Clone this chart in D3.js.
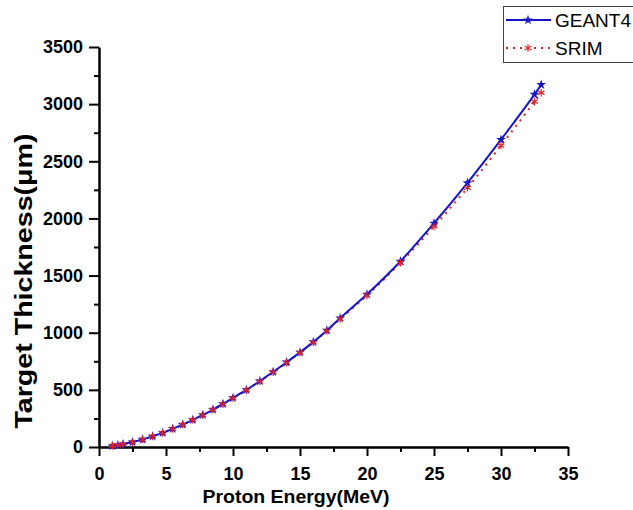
<!DOCTYPE html>
<meta charset="utf-8">
<head lang="en">
    <title>Target Thickness vs Proton Energy</title>
    <script src="https://cdn.jsdelivr.net/npm/d3@7/dist/d3.min.js"></script>
    <style type="text/css">
        body { margin: 0; background: #fff; }
        .axis path, .axis line { stroke: #000; }
        .axis text { font-family: Arial, "Liberation Sans", sans-serif; font-weight: bold; font-size: 18px; fill: #000; }
        .title { font-family: Arial, "Liberation Sans", sans-serif; font-weight: bold; fill: #000; }
        .geant { fill: none; stroke: #1414c8; stroke-width: 2; }
        .srim { fill: none; stroke: #e0242a; stroke-width: 2; stroke-dasharray: 2, 5; }
    </style>
</head>
<body>
<script type="text/javascript">

    // data
    var energy = [1, 1.4, 1.8, 2.5, 3.25, 4, 4.75, 5.5, 6.25, 7, 7.75, 8.5, 9.25, 10,
        11, 12, 13, 14, 15, 16, 17, 18, 20, 22.5, 25, 27.5, 30, 32.5, 33];
    var geant4 = [10, 17, 25, 43, 66, 94, 124, 160, 197, 238, 281, 328, 377, 430,
        500, 577, 658, 742, 828, 920, 1020, 1128, 1336, 1625, 1958, 2312, 2690, 3085, 3170];
    var srim = [10, 16, 24, 42, 65, 93, 123, 158, 195, 236, 279, 326, 374, 427,
        497, 574, 655, 738, 825, 916, 1015, 1120, 1325, 1612, 1930, 2268, 2638, 3022, 3100];
    var xTicks = [0, 5, 10, 15, 20, 25, 30, 35];
    var yTicks = [0, 500, 1000, 1500, 2000, 2500, 3000, 3500];
    var series = ["GEANT4", "SRIM"];

    var width = 633;
    var height = 510;

    var svg = d3.select("body")
        .append("svg")
        .attr("width", width)
        .attr("height", height);

    var x = d3.scaleLinear().domain([0, 35]).range([99, 568]);
    var y = d3.scaleLinear().domain([0, 3500]).range([447, 47]);

    // minor ticks
    var xMinor = xTicks.slice(0, -1).map(function (d) { return d + 2.5; });
    var yMinor = yTicks.slice(0, -1).map(function (d) { return d + 250; });

    svg.append("g")
        .attr("transform", "translate(0,447)")
        .call(d3.axisBottom(x).tickValues(xMinor).tickSize(5).tickFormat(""))
        .call(function (g) { g.select(".domain").remove(); g.selectAll("line").attr("stroke", "#000").attr("stroke-width", 2); });
    svg.append("g")
        .attr("transform", "translate(99,0)")
        .call(d3.axisLeft(y).tickValues(yMinor).tickSize(5).tickFormat(""))
        .call(function (g) { g.select(".domain").remove(); g.selectAll("line").attr("stroke", "#000").attr("stroke-width", 2); });

    svg.append("g")
        .attr("class", "axis")
        .attr("transform", "translate(0,447)")
        .call(d3.axisBottom(x).tickValues(xTicks).tickFormat(d3.format("d"))
            .tickSize(9).tickSizeOuter(0).tickPadding(11));
    svg.append("g")
        .attr("class", "axis")
        .attr("transform", "translate(99,0)")
        .call(d3.axisLeft(y).tickValues(yTicks).tickFormat(d3.format("d"))
            .tickSize(10).tickSizeOuter(0).tickPadding(6));
    svg.selectAll(".axis .domain").attr("stroke-width", 2.5);
    svg.selectAll(".axis .tick line").attr("stroke-width", 2);
    svg.selectAll(".axis text").attr("font-family", null).attr("font-size", null);

    // axis titles
    svg.append("text")
        .attr("class", "title")
        .attr("x", 296)
        .attr("y", 503)
        .attr("font-size", "19px")
        .attr("text-anchor", "middle")
        .attr("textLength", 187)
        .attr("lengthAdjust", "spacingAndGlyphs")
        .text("Proton Energy(MeV)");
    svg.append("text")
        .attr("class", "title")
        .attr("transform", "translate(32,281) rotate(-90)")
        .attr("font-size", "24px")
        .attr("text-anchor", "middle")
        .attr("textLength", 295)
        .attr("lengthAdjust", "spacingAndGlyphs")
        .text("Target Thickness(\u03bcm)");

    var line = d3.line()
        .x(function (d) { return x(d[0]); })
        .y(function (d) { return y(d[1]); })
        .curve(d3.curveMonotoneX);

    var gData = energy.map(function (e, i) { return [e, geant4[i]]; });
    var sData = energy.map(function (e, i) { return [e, srim[i]]; });

    var star = d3.symbol().type(d3.symbolStar).size(30);
    var aster = d3.symbol().type(d3.symbolAsterisk).size(40);

    svg.append("path").datum(sData).attr("class", "srim").attr("d", line);
    svg.append("path").datum(gData).attr("class", "geant").attr("d", line);
    svg.selectAll(".gmark")
        .data(gData)
        .enter()
        .append("path")
        .attr("class", "gmark")
        .attr("transform", function (d) { return "translate(" + x(d[0]) + "," + y(d[1]) + ")"; })
        .attr("d", star)
        .attr("fill", "#1414c8");
    svg.selectAll(".smark")
        .data(sData)
        .enter()
        .append("path")
        .attr("class", "smark")
        .attr("transform", function (d) { return "translate(" + x(d[0]) + "," + y(d[1]) + ")"; })
        .attr("d", aster)
        .attr("fill", "none")
        .attr("stroke", "#e0242a")
        .attr("stroke-width", 1.2);

    // legend
    var legend = svg.append("g");
    legend.append("rect")
        .attr("x", 503.5)
        .attr("y", 6.5)
        .attr("width", 135)
        .attr("height", 56)
        .attr("fill", "#fff")
        .attr("stroke", "#444")
        .attr("stroke-width", 1);
    legend.append("line")
        .attr("x1", 506).attr("x2", 551).attr("y1", 20).attr("y2", 20)
        .attr("class", "geant");
    legend.append("path")
        .attr("transform", "translate(528,20)")
        .attr("d", star)
        .attr("fill", "#1414c8");
    legend.append("line")
        .attr("x1", 506).attr("x2", 551).attr("y1", 48).attr("y2", 48)
        .attr("class", "srim");
    legend.append("path")
        .attr("transform", "translate(528,48)")
        .attr("d", aster)
        .attr("fill", "none")
        .attr("stroke", "#e0242a")
        .attr("stroke-width", 1.2);
    legend.selectAll(".ltext")
        .data(series)
        .enter()
        .append("text")
        .attr("x", 555)
        .attr("y", function (d, i) { return 27 + i * 28; })
        .attr("font-family", "Arial, 'Liberation Sans', sans-serif")
        .attr("font-size", "19px")
        .text(function (d) { return d; });

</script>
</body>
